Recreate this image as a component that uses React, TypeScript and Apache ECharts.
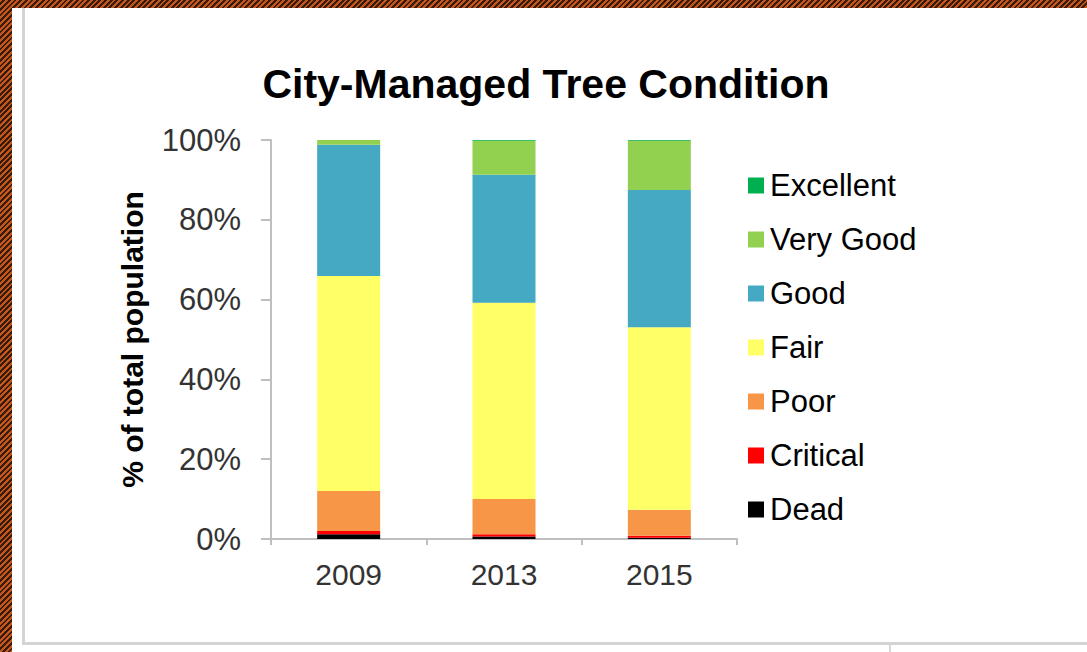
import React, { useEffect, useRef } from "react";
import * as echarts from "echarts";

const years = ["2009", "2013", "2015"];
const yTicks = [0, 20, 40, 60, 80, 100];
const seriesNames = ["Dead", "Critical", "Poor", "Fair", "Good", "Very Good", "Excellent"];
const dead = [1.2, 0.6, 0.3];
const critical = [0.8, 0.6, 0.5];
const poor = [10.0, 8.8, 6.5];
const fair = [53.9, 49.2, 45.8];
const good = [32.9, 32.1, 34.4];
const veryGood = [1.2, 8.5, 12.3];
const excellent = [0, 0.2, 0.2];
const colors = ["#000000", "#ff0000", "#f79646", "#ffff66", "#45a9c3", "#92d050", "#00b050"];
const legendOrder = ["Excellent", "Very Good", "Good", "Fair", "Poor", "Critical", "Dead"];

const FONT = "Liberation Sans, Arial, sans-serif";

export default function App() {
  const ref = useRef<HTMLDivElement>(null);
  useEffect(() => {
    document.body.style.margin = "0";
    const chart = echarts.init(ref.current!, null, { renderer: "svg" });
    const values = [dead, critical, poor, fair, good, veryGood, excellent];
    chart.setOption({
      animation: false,
      backgroundColor: "transparent",
      graphic: [
        { type: "rect", shape: { x: 12, y: 8, width: 1075, height: 644 }, style: { fill: "#ffffff" }, z: -10 },
        { type: "rect", shape: { x: 22, y: 8, width: 3, height: 637 }, style: { fill: "#d4d4d4" }, z: -9 },
        { type: "rect", shape: { x: 22, y: 642, width: 1065, height: 3 }, style: { fill: "#d4d4d4" }, z: -9 },
        { type: "rect", shape: { x: 889, y: 645, width: 2, height: 7 }, style: { fill: "#d8d8d8" }, z: -9 },
      ],
      title: {
        text: "City-Managed Tree Condition",
        left: 541,
        textAlign: "center",
        top: 58,
        textStyle: { fontFamily: FONT, fontSize: 41, fontWeight: "bold", color: "#000000" },
      },
      legend: {
        orient: "vertical",
        left: 743,
        top: 165,
        itemWidth: 16,
        itemHeight: 16,
        itemGap: 23,
        icon: "rect",
        data: legendOrder,
        textStyle: { fontFamily: FONT, fontSize: 31, color: "#000000", padding: [0, 0, 0, 1] },
      },
      grid: { left: 271, right: 350, top: 140, bottom: 113 },
      xAxis: {
        type: "category",
        data: years,
        axisLine: { lineStyle: { color: "#bfbfbf", width: 2 } },
        axisTick: { show: true, length: 6, lineStyle: { color: "#bfbfbf", width: 2 } },
        axisLabel: { fontFamily: FONT, fontSize: 30, color: "#333333", margin: 20 },
      },
      yAxis: {
        type: "value",
        min: 0,
        max: 100,
        interval: 20,
        name: "% of total population",
        nameLocation: "middle",
        nameGap: 124,
        nameTextStyle: { fontFamily: FONT, fontSize: 30, fontWeight: "bold", color: "#000000" },
        axisLine: { show: true, lineStyle: { color: "#bfbfbf", width: 2 } },
        axisTick: { show: true, length: 10, lineStyle: { color: "#bfbfbf", width: 2 } },
        splitLine: { show: false },
        axisLabel: {
          fontFamily: FONT,
          fontSize: 31,
          color: "#333333",
          margin: 30,
          formatter: (v: number) => (yTicks.includes(v) ? v + "%" : ""),
        },
      },
      series: seriesNames.map((name, i) => ({
        name,
        type: "bar",
        stack: "total",
        barWidth: 63,
        data: values[i],
        itemStyle: { color: colors[i] },
      })),
    });
    return () => chart.dispose();
  }, []);
  return (
    <div
      style={{
        position: "relative",
        width: 1087,
        height: 652,
        background: "repeating-linear-gradient(135deg, #c4581c 0px, #c4581c 2px, #3a1a0a 2px, #3a1a0a 4px)",
      }}
    >
      <div ref={ref} style={{ position: "absolute", left: 0, top: 0, width: 1087, height: 652 }} />
    </div>
  );
}
